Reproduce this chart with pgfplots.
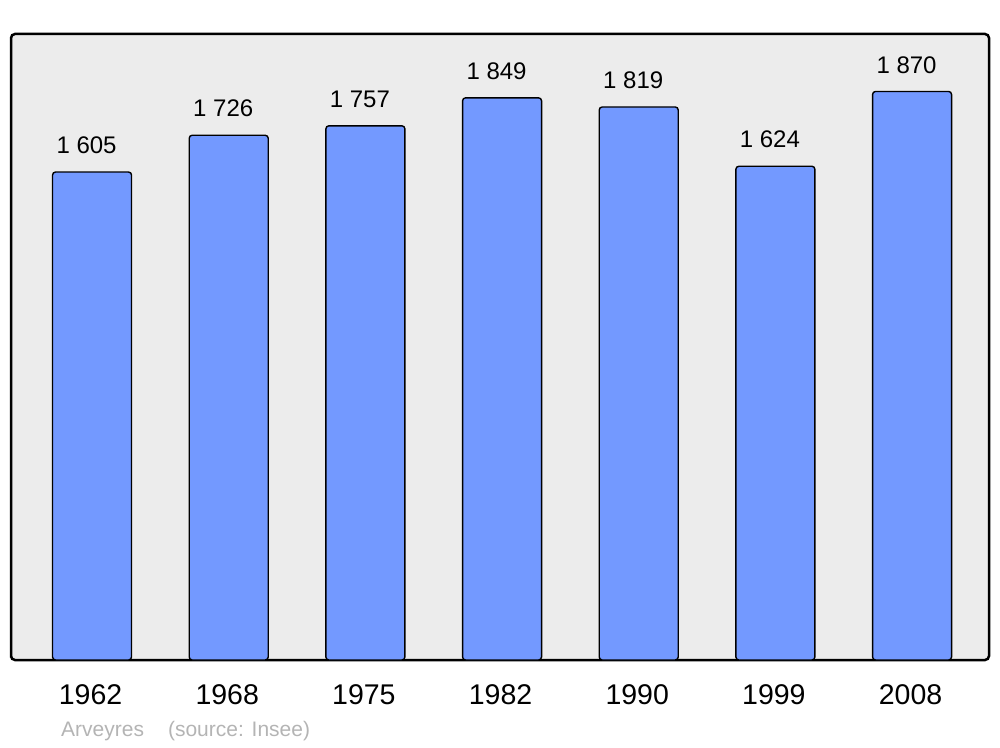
\documentclass[border=0pt]{standalone}
\usepackage{pgfplots}
\pgfplotsset{compat=1.18}
\usepackage{fontspec}
\setmainfont{Liberation Sans}
\definecolor{barblue}{RGB}{115,153,255}
\definecolor{bggray}{RGB}{236,236,236}
\definecolor{srcgray}{RGB}{180,180,180}
\begin{document}
\begin{tikzpicture}[x=1pt,y=1pt]
\useasboundingbox (0,0) rectangle (1000,747);
\begin{axis}[
  anchor=south west, at={(11pt,87pt)},
  scale only axis, width=978pt, height=626pt,
  xmin=-0.593, xmax=6.563, ymin=0, ymax=2059,
  ytick=\empty,
  xtick=data,
  xticklabels={1962,1968,1975,1982,1990,1999,2008},
  major tick length=0pt,
  xticklabel style={font=\fontsize{28.5}{31}\selectfont, yshift=-21pt, xshift=-1.5pt},
  axis background/.style={fill=bggray, rounded corners=4pt},
  axis line style={line width=2.5pt, rounded corners=4pt},
  /pgf/number format/.cd, 1000 sep={\ }, assume math mode=true,
]
\addplot[ybar, bar width=79pt, fill=barblue, draw=black, line width=1.4pt, rounded corners=3pt,
  nodes near coords,
  every node near coord/.append style={font=\fontsize{24}{26}\selectfont, xshift=-5.5pt, yshift=14pt, black}]
  coordinates {(0,1605) (1,1726) (2,1757) (3,1849) (4,1819) (5,1624) (6,1870)};
\end{axis}
\node[anchor=base west, font=\fontsize{21}{24}\selectfont, text=srcgray, inner sep=0pt] at (61,10.5) {Arveyres\hspace{24pt}(source: Insee)};
\end{tikzpicture}
\end{document}
